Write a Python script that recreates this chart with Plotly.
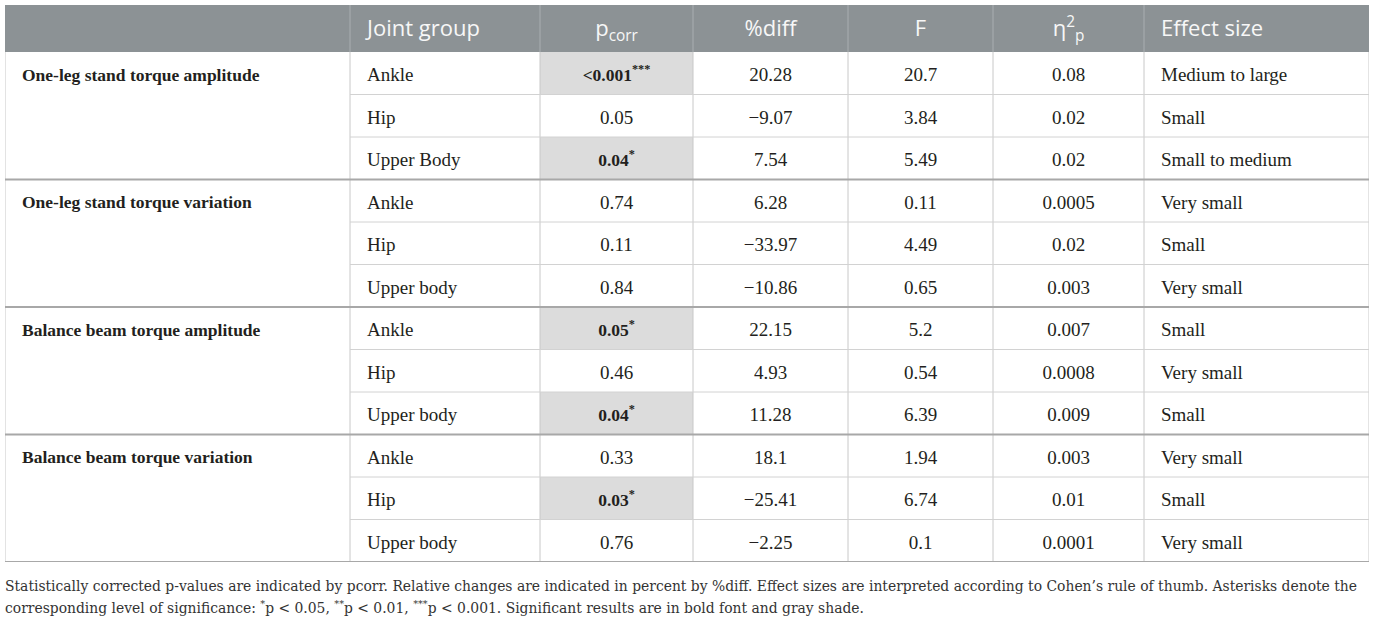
import plotly.graph_objects as go

# table content
groups = ["One-leg stand torque amplitude", "One-leg stand torque variation",
          "Balance beam torque amplitude", "Balance beam torque variation"]
joints = ["Ankle", "Hip", "Upper Body", "Ankle", "Hip", "Upper body",
          "Ankle", "Hip", "Upper body", "Ankle", "Hip", "Upper body"]
p_corr = ["&lt;0.001", "0.05", "0.04", "0.74", "0.11", "0.84",
          "0.05", "0.46", "0.04", "0.33", "0.03", "0.76"]
p_stars = ["***", "", "*", "", "", "", "*", "", "*", "", "*", ""]
significant = [True, False, True, False, False, False,
               True, False, True, False, True, False]
pct_diff = ["20.28", "\u22129.07", "7.54", "6.28", "\u221233.97", "\u221210.86",
            "22.15", "4.93", "11.28", "18.1", "\u221225.41", "\u22122.25"]
f_values = ["20.7", "3.84", "5.49", "0.11", "4.49", "0.65",
            "5.2", "0.54", "6.39", "1.94", "6.74", "0.1"]
eta_p2 = ["0.08", "0.02", "0.02", "0.0005", "0.02", "0.003",
          "0.007", "0.0008", "0.009", "0.003", "0.01", "0.0001"]
effect = ["Medium to large", "Small", "Small to medium", "Very small", "Small", "Very small",
          "Small", "Very small", "Small", "Very small", "Small", "Very small"]
headers = ["", "Joint group", "p<sub>corr</sub>", "%diff", "F",
           "\u03b7<sup>2</sup><sub>p</sub>", "Effect size"]

footnote_lines = [
    "Statistically corrected p-values are indicated by pcorr. Relative changes are indicated in "
    "percent by %diff. Effect sizes are interpreted according to Cohen\u2019s rule of thumb. "
    "Asterisks denote the",
    "corresponding level of significance: <sup>*</sup>p &lt; 0.05, <sup>**</sup>p &lt; 0.01, "
    "<sup>***</sup>p &lt; 0.001. Significant results are in bold font and gray shade.",
]

# layout constants (pixels)
col_w = [345, 190, 153, 155, 145, 151, 225]
align = ["left", "left", "center", "center", "center", "center", "left"]
ROWS_PER_GROUP = 3
HEADER_H = 47
ROW_H = 42.5
PAD = 17
TEXT_DY = 3
n = len(joints)
total_w = sum(col_w)
table_h = HEADER_H + n * ROW_H
edges = [sum(col_w[:i]) for i in range(len(col_w) + 1)]


def col_x(c):
    return edges[c] + PAD if align[c] == "left" else (edges[c] + edges[c + 1]) / 2


row_y = [HEADER_H + (i + 0.5) * ROW_H + TEXT_DY for i in range(n)]
serif = "Liberation Serif"
ink = "#231f20"

group_col = []
for g in groups:
    group_col += ["<b>" + g + "</b>"] + [""] * (ROWS_PER_GROUP - 1)
p_col = ["<b>%s<sup>%s</sup></b>" % (p, s) if sig else p
         for p, s, sig in zip(p_corr, p_stars, significant)]
columns = [group_col, joints, p_col, pct_diff, f_values, eta_p2, effect]

fig = go.Figure()
for c, vals in enumerate(columns):
    if c == 0:
        sizes = 17.5
    elif c == 2:
        sizes = [17.5 if sig else 19 for sig in significant]
    else:
        sizes = 19
    fig.add_trace(go.Scatter(
        x=[col_x(c)] * n, y=row_y, text=vals, mode="text",
        textposition="middle right" if align[c] == "left" else "middle center",
        textfont=dict(family=serif, size=sizes, color=ink),
        hoverinfo="skip", showlegend=False,
    ))
fig.add_trace(go.Scatter(
    x=[col_x(c) for c in range(len(headers))], y=[HEADER_H / 2 + 2] * len(headers),
    text=headers, mode="text",
    textposition=["middle right" if a == "left" else "middle center" for a in align],
    textfont=dict(family="Open Sans", size=22, color="#f7f7f7"),
    hoverinfo="skip", showlegend=False,
))

shapes = [dict(type="rect", x0=0, x1=total_w, y0=0, y1=HEADER_H,
               fillcolor="#8c9295", line=dict(width=0), layer="below")]
for i, sig in enumerate(significant):
    if sig:
        shapes.append(dict(type="rect", x0=edges[2], x1=edges[3],
                           y0=HEADER_H + i * ROW_H, y1=HEADER_H + (i + 1) * ROW_H,
                           fillcolor="#dcdcdc", line=dict(width=0), layer="below"))
for e in edges[1:-1]:
    shapes.append(dict(type="line", x0=e, x1=e, y0=0, y1=HEADER_H,
                       line=dict(color="#a9aeb1", width=1), layer="below"))
for e in edges:
    shapes.append(dict(type="line", x0=e, x1=e, y0=HEADER_H, y1=table_h,
                       line=dict(color="#c8c8c8", width=1), layer="below"))
for i in range(1, n + 1):
    y = HEADER_H + i * ROW_H
    if i % ROWS_PER_GROUP:
        shapes.append(dict(type="line", x0=edges[1], x1=total_w, y0=y, y1=y,
                           line=dict(color="#d2d2d2", width=1), layer="below"))
    else:
        shapes.append(dict(type="line", x0=0, x1=total_w, y0=y, y1=y,
                           line=dict(color="#a8a8a8", width=2), layer="below"))
for s in shapes:
    s.update(xref="x", yref="y")

annotations = [dict(text=t, xref="paper", yref="paper", x=0, y=0, xanchor="left",
                    yanchor="middle", xshift=-2, yshift=-24 - 21 * k, align="left",
                    showarrow=False, font=dict(family="DejaVu Serif", size=13.9, color="#333333"))
               for k, t in enumerate(footnote_lines)]

fig.update_layout(
    width=1375, height=620,
    margin=dict(l=5, r=6, t=5, b=620 - 5 - table_h),
    paper_bgcolor="white", plot_bgcolor="white",
    xaxis=dict(range=[0, total_w], visible=False, fixedrange=True),
    yaxis=dict(range=[table_h, 0], visible=False, fixedrange=True),
    shapes=shapes, annotations=annotations,
)

fig.write_html("out.html", config={"displayModeBar": False},
               post_script="document.body.style.margin = '0';")
